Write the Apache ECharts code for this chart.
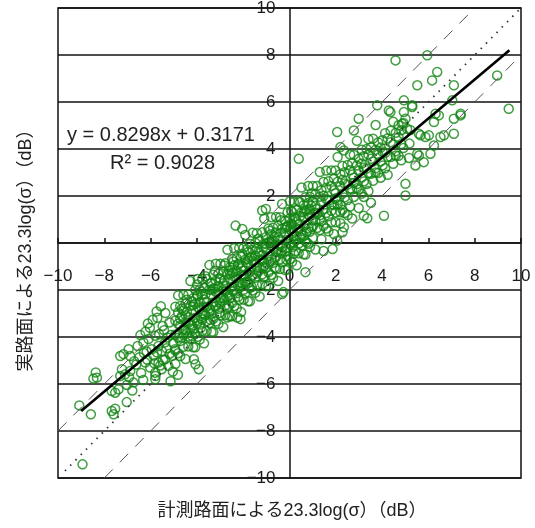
<!DOCTYPE html>
<html><head><meta charset="utf-8">
<script src="https://cdn.jsdelivr.net/npm/echarts@6/dist/echarts.min.js"></script>
<style>html,body{margin:0;padding:0;background:#fff}#c{width:535px;height:528px}</style>
</head><body><div id="c"></div>
<script>
// ---- data ----
const xTitle = '計測路面による23.3log(σ）（dB）';
const yTitle = '実路面による23.3log(σ）（dB）';
const eqText = 'y = 0.8298x + 0.3171';
const r2Text = 'R² = 0.9028';
const fitSlope = 0.8298, fitIntercept = 0.3171;
const fitRange = [-9.0, 9.5];
const diagRange = [-9.7, 10];
const upperBandRange = [-10, 8];
const lowerBandRange = [-8, 10];
const bandOffset = 2;

const ptsLower = [[-9.08,-6.91],[-8.58,-7.29],[-8.94,-9.42],[-8.37,-5.51],[-8.32,-5.73],[-8.47,-5.77],[-7.68,-7.15],[-7.53,-7.05],[-7.6,-7.29],[-7.03,-6.77],[-7.68,-6.3],[-7.39,-6.23],[-7.53,-6.37],[-7.31,-4.81],[-6.95,-4.52],[-7.17,-4.73],[-6.88,-4.81],[-7.24,-5.37],[-7.1,-5.59],[-7.31,-5.66],[-6.88,-5.45],[-6.74,-5.94],[-5.8,-5.8],[-6.31,-4.23],[-6.09,-4.09],[-5.8,-3.95],[-5.95,-4.52],[-5.66,-4.38],[-5.37,-4.23],[-6.23,-5.09],[-6.02,-5.3],[-5.66,-5.09],[-5.37,-4.95],[-5.23,-5.23],[-5.08,-4.8],[-4.94,-4.52],[-5.52,-5.37],[-5.8,-5.52],
[-6.62,-5.17],[-6.48,-4.86],[-6.41,-5.53],[-6.17,-4.62],[-6.71,-5.03],[-7.02,-6.04],[-6.93,-5.71],[-6.56,-4.38],[-6.44,-3.92],[-6.22,-3.77],[-6.03,-3.61],[-5.91,-3.27],[-6.12,-3.43],[-5.71,-3.18],[-5.48,-3.53],[-5.63,-3.88],[-5.42,-3.71],[-5.28,-4.02],[-5.19,-3.38],[-5.11,-3.91],[-5.87,-4.79],[-5.72,-4.66],[-5.51,-4.61],[-5.31,-4.48],[-5.17,-4.71],[-5.02,-4.27],[-5.46,-4.98],[-5.58,-5.21],[-6.29,-4.68],[-6.14,-4.97],[-5.84,-5.12],[-5.04,-5.47],[-5.14,-5.88],[-4.82,-5.61],[-6.79,-6.28],[-6.32,-5.83],[-5.36,-2.98],[-5.74,-2.91],[-5.56,-2.69],[-4.13,-4.95],[-3.92,-5.37],[-4.06,-5.16],[-5.79,-5.66]];

const colsMidA = [
[-4.93,[-3.89,-3.30,-4.58,-2.71,-5.15]],[-4.81,[-3.44,-4.03,-2.96,-4.69,-2.23]],[-4.72,[-4.17,-3.51,-2.68,-4.81,-3.22]],
[-4.65,[-3.12,-4.02,-2.79]],[-4.58,[-2.87,-3.66,-4.42,-2.21,-3.93]],[-4.49,[-3.70,-3.07,-4.94,-2.58,-3.37]],
[-4.43,[-2.93,-3.84,-2.41]],[-4.37,[-3.16,-3.98,-2.19,-3.39,-4.40]],[-4.28,[-3.64,-2.67,-3.46,-1.62,-4.09]],
[-4.21,[-3.51,-2.48,-3.96]],[-4.16,[-2.35,-3.65,-2.86,-4.44,-2.64]],[-4.07,[-3.18,-2.59,-3.87,-2.00,-4.44]],
[-3.99,[-2.21,-3.42,-1.77]],[-3.96,[-2.74,-3.33,-2.26,-3.99,-1.53]],[-3.88,[-3.47,-2.81,-1.98,-4.11,-2.52]],
[-3.83,[-3.19,-2.07,-3.61]],[-3.77,[-2.20,-2.99,-3.75,-1.54,-3.26]],[-3.69,[-3.03,-2.40,-4.27,-1.91,-2.70]],
[-3.63,[-2.18,-3.07,-1.42]],[-3.58,[-2.50,-3.32,-1.53,-2.73,-3.74]],[-3.46,[-2.96,-1.99,-2.78,-0.94,-3.41]],
[-3.41,[-2.84,-1.72,-3.27]],[-3.37,[-1.70,-3.00,-2.21,-3.79,-1.99]],[-3.29,[-2.53,-1.94,-3.22,-1.35,-3.79]],
[-3.22,[-1.93,-2.71,-1.18]],[-3.18,[-2.09,-2.68,-1.61,-3.34,-0.88]],[-3.07,[-2.80,-2.14,-1.31,-3.44,-1.85]],
[-3.02,[-2.52,-1.49,-2.97]],[-2.98,[-1.54,-2.33,-3.09,-0.88,-2.60]],[-2.86,[-2.34,-1.71,-3.58,-1.22,-2.01]],
[-2.81,[-1.58,-2.43,-0.96]],[-2.77,[-1.83,-2.65,-0.86,-2.06,-3.07]],[-2.69,[-3.17]],[-2.68,[-2.31,-1.34,-2.13,-0.29,-2.76]],
[-2.62,[-2.22,-1.16,-2.67]],[-2.57,[-1.03,-2.33,-1.54,-3.12,-1.32]],[-2.48,[-1.86,-1.27,-2.55,-0.68,-3.12]],
[-2.43,[-1.27,-2.06,-0.79]],[-2.39,[-1.43,-2.02,-0.95,-2.68,-0.22]],[-2.33,[0.74]],[-2.28,[-2.14,-1.48,-0.65,-2.78,-1.19]],
[-2.26,[-3.17]],[-2.22,[-1.84,-0.93,-2.29]],[-2.17,[-0.87,-1.66,-2.42,-0.21,-1.93]],[-2.12,[-3.24]],
[-2.09,[-1.70,-1.07,-2.94,-0.58,-1.37]],[-2.04,[0.6]],[-2.03,[-0.98,-1.73,-0.47]],[-1.98,[-1.17,-1.99,-0.20,-1.40,-2.41]]];

const colsMidB = [
[-1.91,[-1.68,-0.71,-1.50,0.34,-2.13]],[-1.85,[-0.83,-1.64,-0.27]],[-1.79,[-0.39,-1.69,-0.90,-2.48,-0.68]],
[-1.71,[-1.22,-0.63,-1.91,-0.04,-2.48]],[-1.63,[-1.42,-0.58,-1.87]],[-1.59,[-0.77,-1.36,-0.29,-2.02,0.44]],
[-1.48,[-1.48,-0.82,0.01,-2.12,-0.53]],[-1.41,[-0.24,-1.03,-1.79,0.42,-1.30]],[-1.35,[-0.37,-1.21,0.18]],
[-1.29,[-1.04,-0.41,-2.28,0.08,-0.71]],[-1.18,[-0.51,-1.33,0.46,-0.74,-1.75,1.38]],[-1.13,[-1.03,-0.19,-1.46]],
[-1.09,[-0.99,-0.02,-0.81,1.03,-1.44]],[-1.02,[0.25,-1.05,-0.26,-1.84,-0.04,1.45]],[-0.91,[-0.56,0.03,-1.25,0.62,-1.82]],
[-0.86,[0.06,-0.81,0.52]],[-0.79,[-0.11,-0.70,0.37,-1.36,1.10]],[-0.71,[-0.84,-0.18,0.65,-1.48,0.11]],
[-0.64,[-0.63,0.27,-1.06]],[-0.58,[0.45,-0.34,-1.10,1.11,-0.61]],[-0.49,[-0.38,0.25,-1.62,0.74,-0.05]],
[-0.41,[0.13,-0.69,1.10,-0.10,-1.11]],[-0.37,[0.44,-0.43,0.97]],[-0.32,[-0.36,0.61,-0.18,1.66,-0.81,-2.17]],
[-0.26,[-2.09]],[-0.19,[0.94,-0.36,0.43,-1.15,0.65]],[-0.13,[-0.22,0.68,-0.71]],[-0.08,[0.13,0.72,-0.56,1.31,-1.13]],
[0.02,[0.57,-0.02,1.05,-0.68,1.78]],[0.07,[0.83,-0.07,1.36]],[0.11,[-0.16,0.50,1.33,-0.80,0.79]],
[0.19,[1.09,0.30,-0.46,1.75,0.03]],[0.27,[0.11,1.02,-0.34]],[0.31,[0.29,0.92,-0.95,1.41,0.62]],
[0.40,[0.80,-0.02,1.77,0.57,-0.44,3.58]],[0.46,[1.15,0.26,1.73]],[0.52,[0.34,1.31,0.52,2.36,-0.11]],
[0.61,[1.61,0.31,1.10,-0.48,1.32]],[0.69,[0.77,1.36,0.08,1.95,-0.49,-1.24]],[0.74,[0.49,1.41,0.02]],
[0.81,[1.22,0.63,1.70,-0.03,2.43]],[0.88,[0.48,1.14,1.97,-0.16,1.43]],[0.95,[1.58,0.67,2.11]],[1.01,[1.77,0.98,0.22,2.43,0.71]]];

const colsMidC = [
[1.12,[0.96,1.59,-0.28,2.08,1.29]],[1.19,[1.46,0.64,2.43,1.23]],[1.31,[1.00,1.97,1.18,3.02,0.55]],
[1.38,[2.25,0.95,1.74,0.16]],[1.47,[1.42,2.01,0.73,2.60,-0.34]],[1.59,[1.87,1.28,2.35,0.62,3.08]],
[1.68,[1.14,1.80,2.63,0.50]],[1.81,[2.43,1.64,0.88,3.09,1.37]],[1.86,[-0.26]],[1.92,[1.62,2.25,0.38,2.74]],
[1.99,[2.12,1.30,3.09,1.89,0.88]],[2.06,[4.72,0.1]],[2.08,[1.64,2.61,1.82,3.66]],[2.20,[2.93,1.63,2.42,0.84,4.08,1.31]],
[2.29,[2.10,2.69,1.41,3.28,0.46]],[2.35,[3.94,0.67]],[2.38,[2.53,1.94,3.01,1.28]],[2.51,[1.83,2.49,3.32,1.19]],
[2.62,[3.10,2.31,1.55,3.76]],[2.71,[2.28,2.91,1.04,3.40]],[2.78,[2.78,1.96,3.75,2.55,4.79]],
[2.91,[2.33,3.30,2.51,4.35]],[2.99,[3.58,2.28,3.07,1.49,5.29]],[3.12,[2.79,3.38,2.10,3.97]],
[3.21,[3.21,2.62,3.69,1.96,1.16]],[3.33,[2.51,3.17,4.00]],[3.36,[1.05]],[3.41,[3.76,2.97,2.21,4.42]],
[3.52,[2.95,3.58,1.71,4.07]],[3.61,[3.47,2.65,4.44]],[3.72,[3.00,3.97,3.18,5.02]],[3.79,[5.86]],
[3.83,[4.28,2.98,3.77]],[3.94,[3.47,4.06,2.78]],[4.02,[3.89,3.30,4.37]],[4.08,[1.16]],
[4.13,[3.18,3.84,4.67]],[4.24,[4.45,3.66,2.90]],[4.29,[5.64]],[4.36,[5.57]],[4.37,[3.66,4.29,4.78]],
[4.48,[4.19,3.37,5.16]],[4.58,[7.77]],[4.59,[3.72,4.69,3.90]],[4.71,[5.01,3.71,4.50]],
[4.83,[4.21,4.80,3.52]],[4.92,[4.63,4.04,5.11]]];

const ptsUpper = [[5.01,2.52],[5.01,2.02],[5.18,4.23],[5.22,4.81],[5.16,3.62],[5.44,3.3],[5.8,3.44],[5.59,3.72],[5.66,4.58],[5.87,4.51],
[5.52,6.71],[4.94,6.07],[5.95,7.99],[6.38,7.28],[6.16,6.92],[7.1,6.71],[8.97,7.13],[9.47,5.71],[5.3,5.79],[7.03,6.07],
[7.1,5.29],[7.39,5.43],[6.31,5.5],[6.45,5.43],[6.24,5.15],[7.1,4.65],[6.67,4.58],[6.52,4.51],[6.02,4.58],[5.59,4.65],
[6.24,4.15],[5.52,3.8],[6.09,3.8],[4.94,5.57],[5.01,5.29],[5.08,4.86],[4.87,5.07],[7.39,5.5],[5.3,5.86]];

// ---- build ----
function flat(cols){ const out=[]; cols.forEach(c=>c[1].forEach(y=>out.push([c[0],y]))); return out; }
const scatterData = ptsLower.concat(flat(colsMidA), flat(colsMidB), flat(colsMidC), ptsUpper);
const fitData = fitRange.map(x=>[x, fitSlope*x+fitIntercept]);
const diagData = diagRange.map(x=>[x,x]);
const upData = upperBandRange.map(x=>[x,x+bandOffset]);
const loData = lowerBandRange.map(x=>[x,x-bandOffset]);
const minusFmt = v => (v<0 ? '\u2212'+Math.abs(v) : String(v));

const G = {left:58, right:14, top:8, bottom:50};
const W = 535 - G.left - G.right, H = 528 - G.top - G.bottom;

const chart = echarts.init(document.getElementById('c'));
const lblFont = {fontFamily:'Liberation Sans, Arial, sans-serif', fontSize:17, color:'#1a1a1a'};
const titleFont = '18px "Liberation Sans", "Noto Sans CJK JP", sans-serif';
chart.setOption({
  animation:false,
  backgroundColor:'#fff',
  grid:Object.assign({show:true, borderColor:'#111', borderWidth:1.5, backgroundColor:'transparent', outerBoundsMode:'none', containLabel:false}, G),
  xAxis:{type:'value', min:-10, max:10, interval:2, offset:-H/2,
    axisLine:{show:true, onZero:false, lineStyle:{color:'#111', width:1.5}},
    axisTick:{show:true, inside:true, length:5, lineStyle:{color:'#111', width:1.5}},
    axisLabel:Object.assign({margin:25, formatter:minusFmt, showMinLabel:true, showMaxLabel:true, hideOverlap:false}, lblFont),
    splitLine:{show:false}
  },
  yAxis:{type:'value', min:-10, max:10, interval:2, offset:-W/2,
    axisLine:{show:true, onZero:false, lineStyle:{color:'#111', width:1.5}},
    axisTick:{show:false},
    axisLabel:Object.assign({margin:14, formatter:minusFmt, showMinLabel:true, showMaxLabel:true, hideOverlap:false}, lblFont),
    splitLine:{show:true, lineStyle:{color:'#111', width:1.5}}
  },
  graphic:[
    {type:'text', left:67, top:125, style:{text:eqText, font:'20px "Liberation Sans", Arial, sans-serif', fill:'#222'}},
    {type:'text', left:110, top:153, style:{text:r2Text, font:'20px "Liberation Sans", Arial, sans-serif', fill:'#222'}},
    {type:'text', x:292, y:511, style:{text:xTitle, font:titleFont, fill:'#222', align:'center', verticalAlign:'middle'}},
    {type:'text', x:26, y:246, rotation:Math.PI/2, style:{text:yTitle, font:titleFont, fill:'#222', align:'center', verticalAlign:'middle'}}
  ],
  series:[
    {type:'scatter', data:scatterData, symbol:'circle', symbolSize:9,
      itemStyle:{color:'rgba(0,0,0,0)', borderColor:'#138613', borderWidth:1.5}, z:2},
    {type:'line', data:diagData, symbol:'none', lineStyle:{color:'#333', width:1.8, type:[1.5,6]}, z:3},
    {type:'line', data:upData, symbol:'none', lineStyle:{color:'#555', width:1, type:[12,10]}, z:3},
    {type:'line', data:loData, symbol:'none', lineStyle:{color:'#555', width:1, type:[12,10]}, z:3},
    {type:'line', data:fitData, symbol:'none', lineStyle:{color:'#000', width:2.6}, z:4}
  ]
});
</script></body></html>
